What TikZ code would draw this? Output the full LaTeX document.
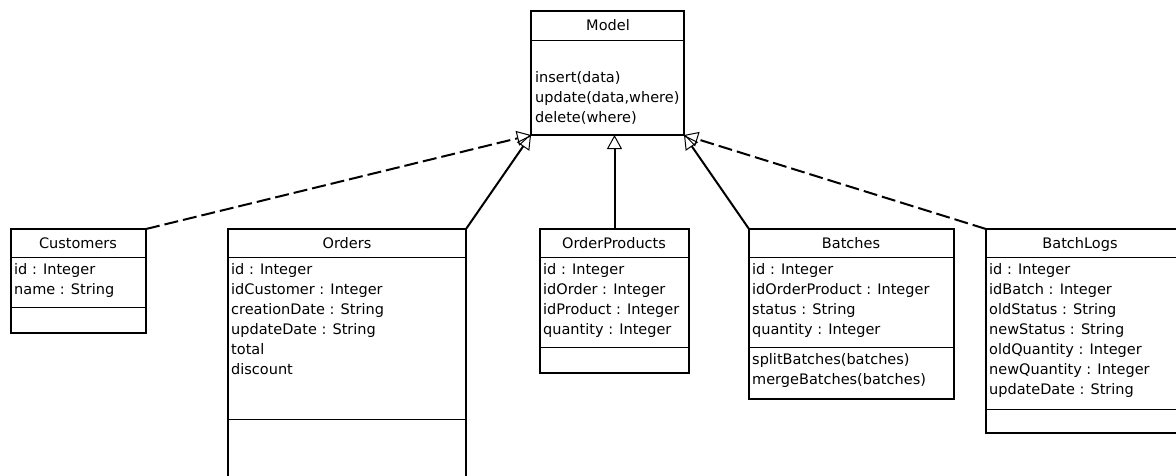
\documentclass[tikz,border=0pt]{standalone}
\usepackage{fontspec}
\setmainfont{DejaVu Sans}
\usetikzlibrary{arrows.meta}

\begin{document}
\begin{tikzpicture}[x=1pt,y=-1pt,
    every node/.style={font=\fontsize{14.5}{17}\selectfont},
    class node/.style={draw,line width=1.6pt,anchor=north west,inner sep=0pt,outer sep=0pt},
    title node/.style={anchor=base,inner sep=0pt},
    member node/.style={anchor=base west,inner sep=0pt},
    sep line/.style={line width=1pt},
    realize/.style={-{Triangle[open,length=14pt,width=15pt,line width=1pt]},line width=2pt},
    uses/.style={realize,dash pattern=on 14pt off 5pt}]
    \useasboundingbox (0,0) rectangle (1176,475);

    % classes
    \node[class node,minimum width=153pt,minimum height=124pt] (model) at (531,11) {};
    \node[class node,minimum width=135pt,minimum height=104pt] (cust) at (11,229) {};
    \node[class node,minimum width=238pt,minimum height=262pt] (orders) at (228,229) {};
    \node[class node,minimum width=149pt,minimum height=144pt] (orderprod) at (540,229) {};
    \node[class node,minimum width=205pt,minimum height=170pt] (batches) at (749,229) {};
    \node[class node,minimum width=210pt,minimum height=204pt] (batchlogs) at (986,229) {};

    % compartments
    \draw[sep line] (model.west |- 0,40) -- (model.east |- 0,40);
    \draw[sep line] (cust.west |- 0,257) -- (cust.east |- 0,257);
    \draw[sep line] (cust.west |- 0,307) -- (cust.east |- 0,307);
    \draw[sep line] (orders.west |- 0,257) -- (orders.east |- 0,257);
    \draw[sep line] (orders.west |- 0,419) -- (orders.east |- 0,419);
    \draw[sep line] (orderprod.west |- 0,257) -- (orderprod.east |- 0,257);
    \draw[sep line] (orderprod.west |- 0,347) -- (orderprod.east |- 0,347);
    \draw[sep line] (batches.west |- 0,257) -- (batches.east |- 0,257);
    \draw[sep line] (batches.west |- 0,347) -- (batches.east |- 0,347);
    \draw[sep line] (batchlogs.west |- 0,257) -- (batchlogs.east |- 0,257);
    \draw[sep line] (batchlogs.west |- 0,409) -- (batchlogs.east |- 0,409);

    % names
    \node[title node] (modelname) at (608,30) {Model};
    \node[title node] (custname) at (78,248) {Customers};
    \node[title node] (ordersname) at (347,248) {Orders};
    \node[title node] (orderprodname) at (614,248) {OrderProducts};
    \node[title node] (batchesname) at (851,248) {Batches};
    \node[title node] (batchlogsname) at (1080,248) {BatchLogs};

    % members
    \foreach \t [count=\i] in {insert(data),{update(data,where)},delete(where)}
        \node[member node] (model-\i) at (535,62+20*\i) {\t};
    \foreach \t [count=\i] in {id : Integer,name : String}
        \node[member node] (cust-\i) at (14,254+20*\i) {\t};
    \foreach \t [count=\i] in {id : Integer,idCustomer : Integer,creationDate : String,updateDate : String,total,discount}
        \node[member node] (orders-\i) at (231,254+20*\i) {\t};
    \foreach \t [count=\i] in {id : Integer,idOrder : Integer,idProduct : Integer,quantity : Integer}
        \node[member node] (orderprod-\i) at (543,254+20*\i) {\t};
    \foreach \t [count=\i] in {id : Integer,idOrderProduct : Integer,status : String,quantity : Integer}
        \node[member node] (batches-\i) at (752,254+20*\i) {\t};
    \foreach \t [count=\i] in {splitBatches(batches),mergeBatches(batches)}
        \node[member node] (batchesop-\i) at (752,344+20*\i) {\t};
    \foreach \t [count=\i] in {id : Integer,idBatch : Integer,oldStatus : String,newStatus : String,oldQuantity : Integer,newQuantity : Integer,updateDate : String}
        \node[member node] (batchlogs-\i) at (989,254+20*\i) {\t};

    % inheritance
    \draw[uses] (cust.north east) -- (model.south west);
    \draw[realize] (orders.north east) -- (model.south west);
    \draw[realize] (orderprod.north) -- (orderprod.north |- model.south);
    \draw[realize] (batches.north west) -- (model.south east);
    \draw[uses] (batchlogs.north west) -- (model.south east);

\end{tikzpicture}
\end{document}
